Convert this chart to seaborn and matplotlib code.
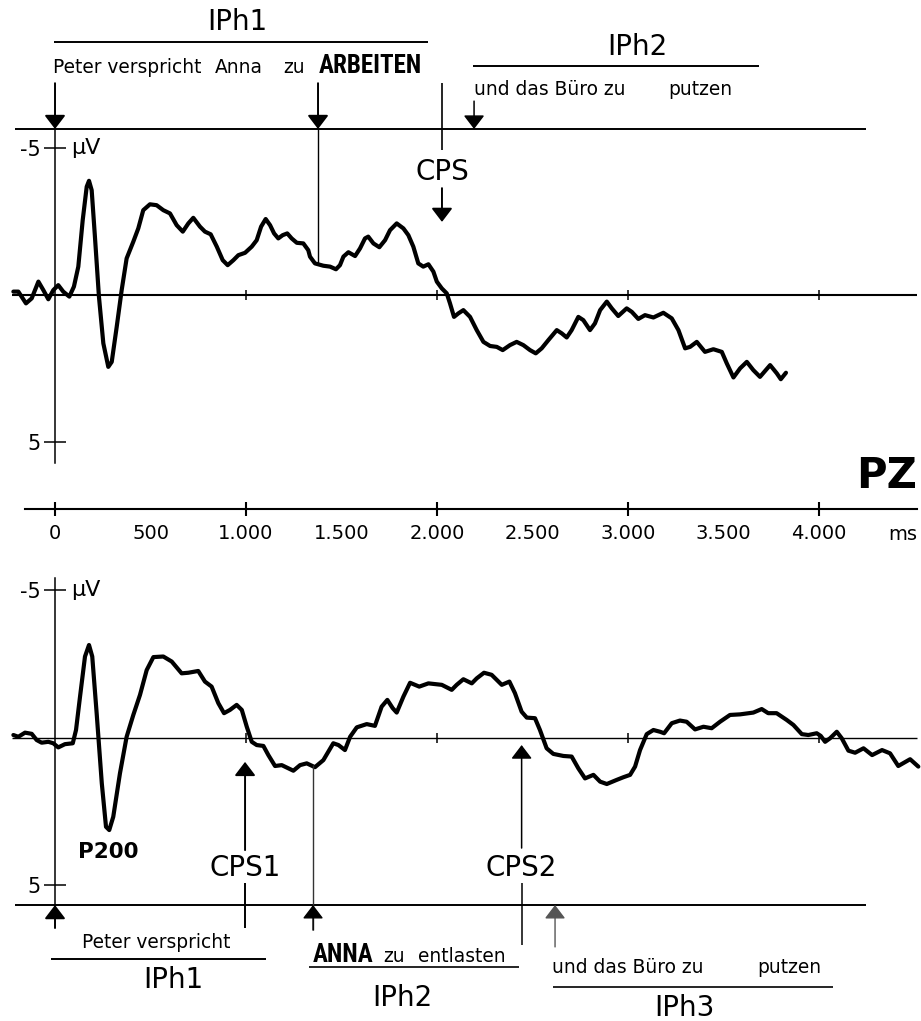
import numpy as np
import pandas as pd
import matplotlib
matplotlib.use("Agg")
import matplotlib.pyplot as plt
import seaborn as sns
from matplotlib import font_manager

# ---------------------------------------------------------------- data
# grand-average ERP at PZ, condition 1 (time in ms, amplitude in microvolt)
top_ms = [-218, -192, -152, -122, -87, -61, -35, -9, 17, 43, 75, 99, 122, 145, 166, 178,
          192, 209, 230, 253, 279, 297, 323, 349, 375, 410, 436, 462, 497, 532, 567, 602,
          637, 669, 698, 724, 759, 785, 815, 847, 878, 904, 934, 960, 995, 1030, 1056,
          1079, 1103, 1126, 1147, 1169, 1192, 1216, 1239, 1266, 1300, 1326, 1335, 1361,
          1405, 1440, 1471, 1492, 1510, 1536, 1571, 1597, 1623, 1640, 1667, 1698, 1728,
          1754, 1789, 1824, 1850, 1876, 1902, 1928, 1955, 1981, 1999, 2025, 2051, 2068,
          2089, 2112, 2138, 2173, 2208, 2243, 2278, 2313, 2344, 2382, 2417, 2452, 2487,
          2517, 2548, 2583, 2627, 2653, 2679, 2705, 2740, 2766, 2801, 2827, 2854, 2889,
          2915, 2949, 2993, 3020, 3054, 3089, 3133, 3185, 3229, 3264, 3299, 3325, 3360,
          3403, 3447, 3491, 3517, 3552, 3587, 3622, 3656, 3691, 3744, 3779, 3800, 3827]
top_uv = [-0.10, -0.10, 0.30, 0.13, -0.44, -0.15, 0.16, -0.15, -0.32, -0.10, 0.07, -0.27,
          -0.95, -2.53, -3.67, -3.87, -3.55, -1.97, 0.07, 1.66, 2.46, 2.29, 1.10, -0.15,
          -1.23, -1.80, -2.25, -2.87, -3.07, -3.04, -2.87, -2.76, -2.36, -2.14, -2.42,
          -2.61, -2.31, -2.14, -2.05, -1.63, -1.17, -1.00, -1.17, -1.34, -1.42, -1.63,
          -1.85, -2.31, -2.57, -2.36, -2.08, -1.91, -2.02, -2.08, -1.91, -1.76, -1.74,
          -1.51, -1.29, -1.06, -0.98, -0.95, -0.86, -1.00, -1.29, -1.44, -1.31, -1.57,
          -1.91, -1.97, -1.74, -1.61, -1.85, -2.19, -2.42, -2.25, -2.02, -1.63, -1.06,
          -0.95, -1.03, -0.78, -0.44, -0.21, -0.04, 0.30, 0.76, 0.64, 0.53, 0.76, 1.21,
          1.61, 1.75, 1.78, 1.89, 1.72, 1.61, 1.72, 1.89, 2.00, 1.83, 1.55, 1.21, 1.32,
          1.46, 1.21, 0.76, 0.87, 1.21, 0.98, 0.53, 0.24, 0.47, 0.73, 0.47, 0.59, 0.83,
          0.70, 0.78, 0.62, 0.81, 1.21, 1.83, 1.78, 1.61, 1.95, 1.86, 1.95, 2.34, 2.82,
          2.51, 2.29, 2.57, 2.80, 2.40, 2.68, 2.88, 2.66]

# grand-average ERP at PZ, condition 2
bot_ms = [-218, -192, -157, -122, -96, -70, -35, -9, 17, 52, 93, 110, 131, 157, 178, 195,
          218, 245, 267, 284, 305, 340, 375, 410, 445, 480, 515, 567, 611, 663, 698, 750,
          785, 820, 855, 885, 916, 951, 978, 1004, 1030, 1056, 1091, 1117, 1152, 1187,
          1222, 1248, 1283, 1318, 1361, 1405, 1457, 1484, 1518, 1545, 1580, 1632, 1675,
          1710, 1740, 1768, 1789, 1824, 1859, 1907, 1955, 2025, 2077, 2103, 2138, 2182,
          2208, 2246, 2286, 2339, 2379, 2408, 2443, 2470, 2513, 2539, 2574, 2609, 2662,
          2705, 2740, 2775, 2819, 2854, 2889, 2941, 2976, 3011, 3037, 3063, 3098, 3133,
          3168, 3189, 3229, 3272, 3307, 3351, 3395, 3438, 3482, 3534, 3587, 3656, 3700,
          3734, 3778, 3831, 3866, 3910, 3944, 3988, 4009, 4032, 4058, 4093, 4119, 4154,
          4189, 4233, 4278, 4330, 4372, 4415, 4477, 4520]
bot_uv = [-0.09, -0.03, -0.17, -0.13, 0.08, 0.17, 0.14, 0.19, 0.33, 0.22, 0.19, -0.26,
          -1.39, -2.75, -3.14, -2.75, -0.83, 1.55, 3.02, 3.13, 2.68, 1.21, -0.03, -0.77,
          -1.45, -2.29, -2.73, -2.75, -2.58, -2.18, -2.20, -2.26, -1.90, -1.73, -1.17,
          -0.83, -0.94, -1.11, -0.94, -0.37, 0.14, 0.25, 0.28, 0.59, 0.96, 0.93, 1.04,
          1.12, 0.93, 0.87, 1.00, 0.76, 0.19, 0.25, 0.42, -0.03, -0.35, -0.46, -0.40,
          -1.05, -1.28, -1.00, -0.85, -1.39, -1.86, -1.73, -1.84, -1.79, -1.62, -1.79,
          -1.98, -1.84, -2.01, -2.20, -2.13, -1.79, -1.90, -1.51, -0.88, -0.68, -0.66,
          -0.26, 0.36, 0.55, 0.62, 0.64, 1.04, 1.38, 1.26, 1.49, 1.57, 1.43, 1.34, 1.26,
          0.98, 0.42, -0.12, -0.26, -0.20, -0.15, -0.49, -0.58, -0.54, -0.28, -0.37,
          -0.32, -0.54, -0.77, -0.79, -0.85, -0.97, -0.83, -0.83, -0.60, -0.43, -0.12,
          -0.09, -0.15, -0.06, 0.14, 0.02, -0.20, 0.02, 0.44, 0.51, 0.36, 0.59, 0.42,
          0.53, 0.96, 0.73, 0.98]

# time axis
time_major = [0, 1000, 2000, 3000, 4000]
time_major_labels = ["0", "1.000", "2.000", "3.000", "4.000"]
time_minor = [500, 1500, 2500, 3500]
time_minor_labels = ["500", "1.500", "2.500", "3.500"]
amp_ticks = [-5, 5]
amp_tick_labels = ["-5", "5"]

# word onsets (ms)
top_word_onsets = {"Peter": 0, "ARBEITEN": 1377, "und": 2194}
top_cps = 2026
bot_word_onsets = {"Peter": 0, "ANNA": 1351, "und": 2618}
bot_cps = {"CPS1": 995, "CPS2": 2443}
p200_ms = 277

# ---------------------------------------------------------------- style
sns.set_theme(style="white")
plt.rcParams["font.family"] = ["DejaVu Sans"]
plt.rcParams["text.color"] = "black"

names = {f.name for f in font_manager.fontManager.ttflist}
narrow_family = next((n for n in ["Liberation Sans Narrow", "DejaVu Sans Condensed",
                                  "Roboto Condensed", "Open Sans Condensed"] if n in names),
                     "Liberation Sans")
NARROW = dict(family=[narrow_family, "DejaVu Sans"], fontstretch="condensed",
              fontweight="bold", fontsize=18)

W, H = 921, 1021
fig = plt.figure(figsize=(W / 100, H / 100), dpi=100)
ax_t = fig.add_axes([0, 461 / H, 1, 560 / H])
ax_b = fig.add_axes([0, 0, 1, 461 / H])

XLIM = (-288, 4534)
for ax in (ax_t, ax_b):
    ax.set_facecolor("none")
    ax.set_xlim(*XLIM)
    for s in ("top", "right"):
        ax.spines[s].set_visible(False)
ax_t.set_ylim(9.03, -10.02)
ax_b.set_ylim(9.60, -6.02)

LW_CURVE = 3.0
K = "black"

sns.lineplot(x=top_ms, y=top_uv, ax=ax_t, color=K, lw=LW_CURVE, sort=False,
             estimator=None, solid_joinstyle="round", solid_capstyle="round")
sns.lineplot(x=bot_ms, y=bot_uv, ax=ax_b, color=K, lw=LW_CURVE, sort=False,
             estimator=None, solid_joinstyle="round", solid_capstyle="round")
for ax in (ax_t, ax_b):
    ax.set_xlabel("")
    ax.set_ylabel("")


def arrow(ax, x, y_tail, y_tip, lw=1.4, color=K):
    ax.annotate("", xy=(x, y_tip), xytext=(x, y_tail), annotation_clip=False,
                arrowprops=dict(arrowstyle="-|>,head_length=0.42,head_width=0.32",
                                mutation_scale=20, lw=lw, color=color,
                                shrinkA=0, shrinkB=0))


def amplitude_axis(ax, lo, hi):
    ax.spines["left"].set_position(("data", 0))
    ax.spines["left"].set_bounds(lo, hi)
    ax.spines["left"].set_linewidth(1.1)
    ax.spines["left"].set_color(K)
    ax.set_yticks(amp_ticks, amp_tick_labels)
    ax.tick_params(axis="y", left=True, direction="inout", length=16, width=1.1,
                   color=K, labelcolor=K, labelsize=15, pad=2)
    ax.text(84, -5, "\u03bcV", fontsize=16, va="center", ha="left")


def zero_line(ax, lw):
    ax.hlines(0, -225, 4513, color=K, lw=lw)
    ax.vlines(time_major[1:], -0.17, 0.17, color=K, lw=1.1)


# ---------------------------------------------------------------- top panel
amplitude_axis(ax_t, -5.63, 5.73)
zero_line(ax_t, 1.5)
ax_t.hlines(-5.63, -209, 4246, color=K, lw=1.4)

sp = ax_t.spines["bottom"]
sp.set_position(("data", 7.30))
sp.set_bounds(-157, 4513)
sp.set_linewidth(1.5)
sp.set_color(K)
ax_t.set_xticks(time_major, time_major_labels)
ax_t.set_xticks(time_minor, time_minor_labels, minor=True)
ax_t.tick_params(axis="x", which="major", bottom=True, direction="inout", length=10,
                 width=1.5, color=K, labelcolor=K, labelsize=14, pad=6)
ax_t.tick_params(axis="x", which="minor", bottom=True, length=0, labelcolor=K,
                 labelsize=14, pad=11)
ax_t.text(4362, 8.15, "ms", fontsize=14, ha="left", va="center")
ax_t.text(4513, 6.17, "PZ", fontsize=30, fontweight="bold", ha="right", va="center")

ax_t.text(953, -9.27, "IPh1", fontsize=20, ha="center", va="center")
ax_t.hlines(-8.59, -5, 1953, color=K, lw=1.4, clip_on=False)
ax_t.text(3047, -8.42, "IPh2", fontsize=20, ha="center", va="center")
ax_t.hlines(-7.77, 2188, 3686, color=K, lw=1.4, clip_on=False)

ax_t.text(-10, -7.53, "Peter verspricht", fontsize=13.4, va="baseline")
ax_t.text(838, -7.53, "Anna", fontsize=13.4, va="baseline")
ax_t.text(1194, -7.53, "zu", fontsize=13.4, va="baseline")
ax_t.text(1382, -7.53, "ARBEITEN", va="baseline", **NARROW)
ax_t.text(2194, -6.79, "und das B\u00fcro zu", fontsize=13.4, va="baseline")
ax_t.text(3209, -6.79, "putzen", fontsize=13.4, va="baseline")

arrow(ax_t, top_word_onsets["Peter"], -7.19, -5.63)
arrow(ax_t, top_word_onsets["ARBEITEN"], -7.19, -5.63)
ax_t.vlines(top_word_onsets["ARBEITEN"], -5.63, -1.05, color=K, lw=1.0)
arrow(ax_t, top_word_onsets["und"], -6.58, -5.63, lw=1.1)
ax_t.vlines(top_cps, -7.19, -4.91, color=K, lw=1.2)
ax_t.text(top_cps, -4.17, "CPS", fontsize=20, ha="center", va="center")
arrow(ax_t, top_cps, -3.62, -2.47)

# ---------------------------------------------------------------- bottom panel
amplitude_axis(ax_b, -5.41, 5.67)
ax_b.spines["bottom"].set_visible(False)
ax_b.set_xticks([])
zero_line(ax_b, 1.0)
ax_b.hlines(5.67, -209, 4246, color=K, lw=1.4)

ax_b.text(p200_ms, 3.88, "P200", fontsize=15.5, fontweight="bold", ha="center", va="center")

arrow(ax_b, bot_word_onsets["Peter"], 6.45, 5.67)
ax_b.vlines(bot_word_onsets["ANNA"], 0.93, 6.52, color="#333333", lw=1.0, clip_on=False)
arrow(ax_b, bot_word_onsets["ANNA"], 6.52, 5.67, lw=1.0)
arrow(ax_b, bot_word_onsets["und"], 7.09, 5.67, lw=1.0, color="#555555")

ax_b.vlines(bot_cps["CPS1"], 4.93, 6.45, color=K, lw=1.4, clip_on=False)
ax_b.text(bot_cps["CPS1"], 4.42, "CPS1", fontsize=20, ha="center", va="center")
arrow(ax_b, bot_cps["CPS1"], 3.81, 0.82)
ax_b.vlines(bot_cps["CPS2"], 4.93, 7.03, color=K, lw=1.1, clip_on=False)
ax_b.text(bot_cps["CPS2"], 4.42, "CPS2", fontsize=20, ha="center", va="center")
arrow(ax_b, bot_cps["CPS2"], 3.74, 0.25, lw=1.1)

ax_b.text(141, 7.14, "Peter verspricht", fontsize=13.4, va="baseline")
ax_b.hlines(7.50, -21, 1105, color=K, lw=1.4, clip_on=False)
ax_b.text(618, 8.21, "IPh1", fontsize=20, ha="center", va="center")

ax_b.text(1351, 7.59, "ANNA", va="baseline", **NARROW)
ax_b.text(1717, 7.59, "zu", fontsize=13.4, va="baseline")
ax_b.text(1901, 7.59, "entlasten", fontsize=13.4, va="baseline")
ax_b.hlines(7.77, 1330, 2429, color=K, lw=1.2, clip_on=False)
ax_b.text(1817, 8.81, "IPh2", fontsize=20, ha="center", va="center")

ax_b.text(2602, 7.99, "und das B\u00fcro zu", fontsize=13.4, va="baseline")
ax_b.text(3675, 7.99, "putzen", fontsize=13.4, va="baseline")
ax_b.hlines(8.45, 2607, 4073, color=K, lw=1.2, clip_on=False)
ax_b.text(3298, 9.16, "IPh3", fontsize=20, ha="center", va="center")

fig.savefig("out.png", dpi=100, facecolor="white")
